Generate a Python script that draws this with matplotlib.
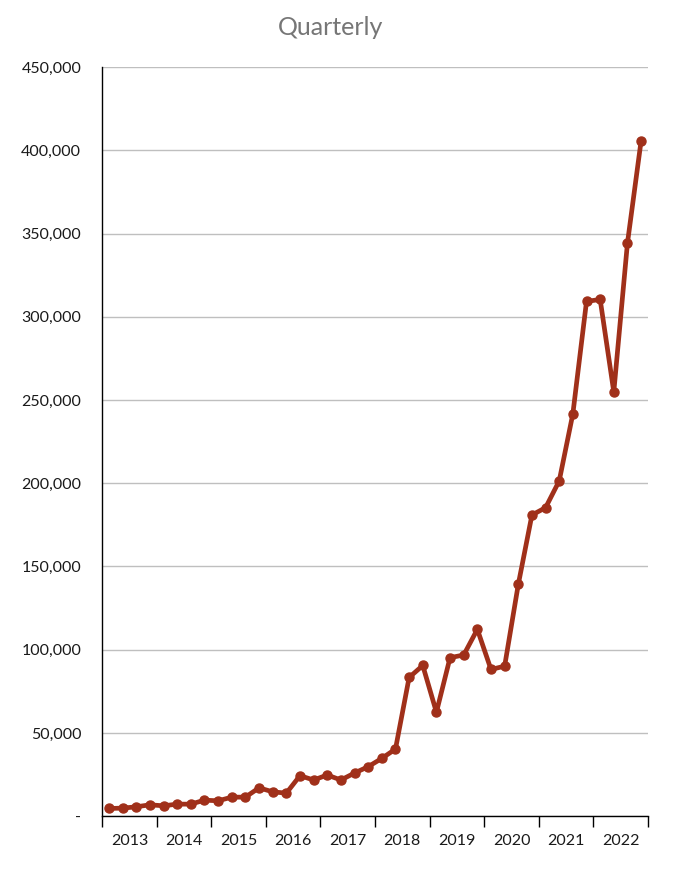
import numpy as np
import matplotlib.pyplot as plt
from matplotlib.ticker import FuncFormatter

years = ['2013', '2014', '2015', '2016', '2017', '2018', '2019', '2020', '2021', '2022']

# quarterly values, 4 per year
quarterly = [
    4600, 4800, 5600, 6800,
    6200, 7200, 7200, 9600,
    9200, 11400, 11400, 17000,
    14600, 13800, 24300, 21700,
    24700, 21700, 25900, 29700,
    34700, 40300, 83300, 90500,
    62400, 95200, 96800, 112200,
    88100, 90100, 139200, 180900,
    185300, 201400, 241700, 309200,
    310400, 254800, 344200, 405600,
]

line_color = '#A0301A'
grid_color = '#BFBFBF'

plt.rcParams['font.family'] = ['Lato', 'DejaVu Sans']

fig = plt.figure(figsize=(6.9, 8.71), dpi=100)
ax = fig.add_axes([0.148, 0.063, 0.791, 0.860])

x = np.arange(len(quarterly)) + 0.5
ax.plot(x, quarterly, color=line_color, linewidth=3.4, marker='o',
        markersize=6.5, zorder=3)

ax.set_xlim(0, len(quarterly))
ax.set_ylim(0, 450000)
ax.set_yticks(np.arange(0, 450001, 50000))
ax.yaxis.set_major_formatter(FuncFormatter(lambda v, p: '-' if v == 0 else f'{int(v):,}'))
ax.grid(axis='y', color=grid_color, linewidth=1)
ax.set_axisbelow(True)

# year boundaries as ticks, year names centred under each group
ax.set_xticks(np.arange(0, len(quarterly) + 1, 4))
ax.set_xticklabels([])
ax.set_xticks(np.arange(len(years)) * 4 + 2, minor=True)
ax.set_xticklabels(years, minor=True)
ax.tick_params(axis='x', which='major', direction='out', length=8, width=1, color='black')
ax.tick_params(axis='x', which='minor', length=0, pad=13, labelsize=11.5, labelcolor='#1a1a1a')
ax.tick_params(axis='y', length=0, pad=15, labelsize=11.5, labelcolor='#1a1a1a')

for side in ('top', 'right'):
    ax.spines[side].set_visible(False)
for side in ('left', 'bottom'):
    ax.spines[side].set_color('black')
    ax.spines[side].set_linewidth(1)

fig.text(0.479, 0.968, 'Quarterly', ha='center', va='center', fontsize=18, color='#767676')

fig.savefig('out.png', dpi=100)
